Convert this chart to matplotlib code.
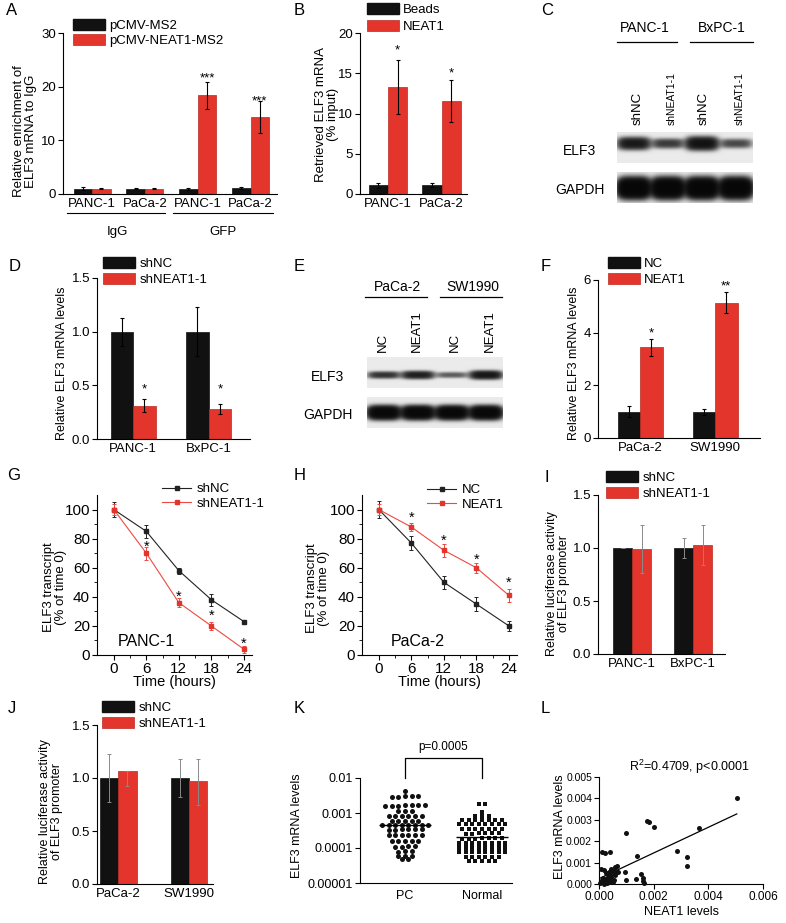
import numpy as np
import matplotlib
matplotlib.use('Agg')
import matplotlib.pyplot as plt
from matplotlib.patches import Patch
from matplotlib.lines import Line2D
from matplotlib.ticker import FixedLocator, NullLocator

plt.rcParams['font.family'] = ['Liberation Sans', 'DejaVu Sans']
plt.rcParams['mathtext.fontset'] = 'custom'
plt.rcParams['mathtext.rm'] = 'Liberation Sans'
plt.rcParams['mathtext.it'] = 'Liberation Sans:italic'
plt.rcParams['font.size'] = 9
plt.rcParams['axes.linewidth'] = 0.8

# ------------------------------------------------------------------ data
# A: RIP enrichment
a_cats = ['PANC-1', 'PaCa-2', 'PANC-1', 'PaCa-2']
a_groups = ['IgG', 'GFP']
a_series = ['pCMV-MS2', 'pCMV-NEAT1-MS2']
a_ctrl = [1.0, 1.0, 1.0, 1.1]
a_ctrl_err = [0.3, 0.05, 0.2, 0.15]
a_trt = [1.0, 1.0, 18.4, 14.3]
a_trt_err = [0.1, 0.05, 2.5, 3.0]
a_marks = ['', '', '***', '***']
a_mark_y = [0, 0, 22.4, 18.1]

# B: pull-down
b_cats = ['PANC-1', 'PaCa-2']
b_series = ['Beads', 'NEAT1']
b_ctrl = [1.1, 1.1]
b_ctrl_err = [0.3, 0.25]
b_trt = [13.3, 11.6]
b_trt_err = [3.4, 2.6]
b_marks = ['*', '*']
b_mark_y = [18.4, 15.5]

# C: western blot (band intensity, relative)
c_groups = ['PANC-1', 'BxPC-1']
c_lanes = ['shNC', 'shNEAT1-1', 'shNC', 'shNEAT1-1']
c_elf3 = [0.85, 0.5, 1.0, 0.42]
c_gapdh = [1.0, 1.0, 1.0, 1.0]

# D: qPCR knockdown
d_cats = ['PANC-1', 'BxPC-1']
d_series = ['shNC', 'shNEAT1-1']
d_ctrl = [1.0, 1.0]
d_ctrl_err = [0.13, 0.23]
d_trt = [0.31, 0.28]
d_trt_err = [0.06, 0.045]
d_marks = ['*', '*']
d_mark_y = [0.5, 0.5]

# E: western blot overexpression
e_groups = ['PaCa-2', 'SW1990']
e_lanes = ['NC', 'NEAT1', 'NC', 'NEAT1']
e_elf3 = [0.6, 0.8, 0.35, 0.95]
e_gapdh = [0.95, 0.95, 0.95, 0.95]

# F: qPCR overexpression
f_cats = ['PaCa-2', 'SW1990']
f_series = ['NC', 'NEAT1']
f_ctrl = [1.0, 1.0]
f_ctrl_err = [0.2, 0.12]
f_trt = [3.45, 5.14]
f_trt_err = [0.32, 0.41]
f_marks = ['*', '**']
f_mark_y = [4.15, 5.9]

# G: mRNA decay PANC-1
t_hours = [0, 6, 12, 18, 24]
g_series = ['shNC', 'shNEAT1-1']
g_ctrl = [100, 85, 58, 38, 23]
g_ctrl_err = [5, 4.5, 2, 4, 1.2]
g_trt = [100, 70, 36, 20, 4]
g_trt_err = [4, 4.5, 3, 3, 2.5]
g_mark_t = [6, 12, 18, 24]
g_mark_y = [76.5, 42, 29, 10]

# H: mRNA decay PaCa-2
h_series = ['NC', 'NEAT1']
h_ctrl = [100, 77, 50, 35, 20]
h_ctrl_err = [6, 4.5, 4.5, 5, 3.5]
h_trt = [100, 88, 72, 60, 41]
h_trt_err = [4, 3, 4.5, 3.5, 4.5]
h_mark_t = [6, 12, 18, 24]
h_mark_y = [96.5, 81, 68, 52]

# I: luciferase knockdown
i_cats = ['PANC-1', 'BxPC-1']
i_series = ['shNC', 'shNEAT1-1']
i_ctrl = [1.0, 1.0]
i_ctrl_err = [0.0, 0.09]
i_trt = [0.99, 1.03]
i_trt_err = [0.23, 0.19]

# J: luciferase
j_cats = ['PaCa-2', 'SW1990']
j_series = ['shNC', 'shNEAT1-1']
j_ctrl = [1.0, 1.0]
j_ctrl_err = [0.23, 0.18]
j_trt = [1.07, 0.97]
j_trt_err_low = [0.15, 0.22]
j_trt_err_high = [0.0, 0.21]

# K: tissue levels
k_cats = ['PC', 'Normal']
k_pc = [4.3e-3,
        3.0e-3, 3.0e-3, 3.0e-3, 2.9e-3, 2.9e-3,
        1.65e-3, 1.65e-3, 1.65e-3, 1.6e-3, 1.6e-3, 1.6e-3, 1.65e-3,
        1.15e-3, 1.15e-3, 1.15e-3,
        8.2e-4, 8.2e-4, 8.0e-4, 8.0e-4, 8.2e-4, 8.0e-4,
        5.9e-4, 5.8e-4, 5.8e-4, 5.9e-4, 5.8e-4,
        4.6e-4, 4.6e-4, 4.5e-4, 4.5e-4, 4.6e-4, 4.5e-4, 4.6e-4, 4.5e-4,
        3.4e-4, 3.4e-4, 3.3e-4, 3.4e-4, 3.3e-4, 3.4e-4,
        2.4e-4, 2.4e-4, 2.3e-4, 2.4e-4, 2.3e-4, 2.4e-4,
        1.6e-4, 1.6e-4, 1.6e-4, 1.55e-4, 1.6e-4,
        1.15e-4, 1.1e-4, 1.15e-4, 1.1e-4,
        8.0e-5, 8.0e-5, 7.8e-5,
        6.0e-5, 6.0e-5, 5.9e-5,
        4.7e-5, 4.7e-5]
k_normal = [1.85e-3, 1.85e-3,
            1.1e-3,
            8.3e-4, 8.3e-4, 8.2e-4,
            6.5e-4, 6.5e-4, 6.4e-4, 6.5e-4, 6.4e-4, 6.5e-4, 6.4e-4,
            4.8e-4, 4.8e-4, 4.7e-4, 4.8e-4, 4.7e-4, 4.8e-4, 4.7e-4, 4.8e-4,
            3.5e-4, 3.5e-4, 3.4e-4, 3.5e-4, 3.4e-4, 3.5e-4, 3.4e-4,
            2.6e-4, 2.6e-4, 2.5e-4, 2.6e-4, 2.5e-4, 2.6e-4,
            1.9e-4, 1.9e-4, 1.85e-4, 1.9e-4, 1.85e-4, 1.9e-4, 1.85e-4,
            1.4e-4, 1.4e-4, 1.38e-4, 1.4e-4, 1.38e-4, 1.4e-4, 1.38e-4, 1.4e-4,
            1.2e-4, 1.2e-4, 1.19e-4, 1.2e-4, 1.19e-4, 1.2e-4, 1.19e-4, 1.2e-4,
            1.0e-4, 1.0e-4, 0.99e-4, 1.0e-4, 0.99e-4, 1.0e-4, 0.99e-4, 1.0e-4,
            7.6e-5, 7.6e-5, 7.5e-5, 7.6e-5, 7.5e-5, 7.6e-5, 7.5e-5, 7.6e-5,
            5.7e-5, 5.7e-5, 5.6e-5, 5.7e-5, 5.6e-5, 5.7e-5,
            4.3e-5, 4.3e-5, 4.2e-5, 4.3e-5, 4.2e-5]
k_pc_line = 4.6e-4
k_normal_line = 2.0e-4
k_pvalue = 'p=0.0005'

# L: correlation
l_neat1 = [0.00504, 0.00367, 0.00175, 0.00182, 0.00200, 0.00100, 0.00287, 0.00322, 0.00322,
           0.00140, 0.00012, 0.00022, 0.00040, 0.00095, 0.00098, 0.00135, 0.00155, 0.00160,
           0.00162, 0.00165,
           0.00008, 0.00020, 0.00045, 0.00060, 0.00065, 0.00050, 0.00055, 0.00040, 0.00030,
           0.00020, 0.00010, 0.00005, 0.00030, 0.00040, 0.00025, 0.00035, 0.00015, 0.00050,
           0.00045, 0.00060, 0.00020, 0.00030, 0.00010, 0.00040, 0.00055, 0.00070, 0.00060,
           0.00028, 0.00033, 0.00038]
l_elf3 = [0.00400, 0.00260, 0.00295, 0.00290, 0.00265, 0.00240, 0.00155, 0.00125, 0.00085,
          0.00130, 0.00150, 0.00145, 0.00150, 0.00055, 0.00020, 0.00025, 0.00045, 0.00030,
          0.00012, 0.00005,
          0.00070, 0.00065, 0.00070, 0.00080, 0.00085, 0.00060, 0.00050, 0.00040, 0.00030,
          0.00020, 0.00010, 0.00005, 0.00015, 0.00020, 0.00050, 0.00055, 0.00030, 0.00010,
          0.00035, 0.00040, 0.00000, 0.00005, 0.00020, 0.00010, 0.00020, 0.00055, 0.00060,
          0.00025, 0.00045, 0.00038]
l_fit_slope = 0.60
l_fit_intercept = 0.00025
l_stat = 'R$^2$=0.4709, p<0.0001'

# ------------------------------------------------------------------ layout helpers
W, H = 786, 923
fig = plt.figure(figsize=(W / 100, H / 100), dpi=100)
BLACK = '#111111'
RED = '#e3352c'
RED_EDGE = '#b82a22'
RED_LINE = '#ec4a42'
TICK_FS = 9.5


def box(l, t, r, b):
    return [l / W, 1 - b / H, (r - l) / W, (b - t) / H]


def fx(x):
    return x / W


def fy(y):
    return 1 - y / H


def clean(ax, fs=TICK_FS):
    ax.spines['top'].set_visible(False)
    ax.spines['right'].set_visible(False)
    ax.tick_params(which='major', direction='out', length=3.5, width=0.8, labelsize=fs, pad=1.5)
    ax.tick_params(which='minor', direction='out', length=2, width=0.6)


def ylabel_at(ax, rect, text, right_px, center_px, fs=9):
    l, t, r, b = rect
    ax.set_ylabel(text, fontsize=fs, linespacing=1.05)
    ax.yaxis.set_label_coords((right_px - l) / (r - l), (b - center_px) / (b - t))


def letter(x, y, s):
    fig.text(fx(x), fy(y), s, fontsize=12, ha='left', va='top')


def bar_legend(x_left, y_top, labels, hl=2.4, hh=0.85, ls=0.25, fs=9.5):
    handles = [Patch(facecolor=BLACK, edgecolor=BLACK), Patch(facecolor=RED, edgecolor=RED_EDGE, linewidth=0.5)]
    fig.legend(handles, labels, loc='upper left', bbox_to_anchor=(fx(x_left), fy(y_top)),
               frameon=False, borderpad=0, borderaxespad=0, handlelength=hl, handleheight=hh,
               handletextpad=0.35, labelspacing=ls, fontsize=fs)


def star(ax, x, y, s, fs=9.5):
    ax.annotate(s, xy=(x, y), xytext=(0, -5.2), textcoords='offset points', ha='center',
                va='baseline', fontsize=fs, annotation_clip=False)


def bar_panel(rect, cats, ctrl, ctrl_err, trt, trt_err, xlim, width, ylim, yticks, yticklabels,
              ecolor='black', elw=0.8):
    ax = fig.add_axes(box(*rect))
    x = np.arange(len(cats))
    ax.bar(x - width / 2, ctrl, width, color=BLACK, edgecolor=BLACK, linewidth=0.5, zorder=2)
    ax.bar(x + width / 2, trt, width, color=RED, edgecolor=RED_EDGE, linewidth=0.5, zorder=2)
    ax.errorbar(x - width / 2, ctrl, yerr=ctrl_err, fmt='none', ecolor=ecolor, elinewidth=elw,
                capsize=1.5, capthick=elw, zorder=3)
    ax.errorbar(x + width / 2, trt, yerr=trt_err, fmt='none', ecolor=ecolor, elinewidth=elw,
                capsize=1.5, capthick=elw, zorder=3)
    ax.set_xlim(*xlim)
    ax.set_ylim(*ylim)
    ax.set_xticks(x)
    ax.set_xticklabels(cats)
    ax.set_yticks(yticks)
    ax.set_yticklabels(yticklabels)
    clean(ax)
    ax.tick_params(axis='x', length=0, pad=3)
    return ax, x


def blot(rect, amps, center_frac, sigma_px, gain, bg=0.92):
    l, t, r, b = rect
    ax = fig.add_axes(box(*rect))
    ny, nx = int((b - t) * 4), int((r - l) * 4)
    yy = (np.arange(ny) + 0.5) / 4.0
    xx = (np.arange(nx) + 0.5) / 4.0
    n = len(amps)
    lane_w = (r - l) / n
    dark = np.zeros((ny, nx))
    cy = center_frac * (b - t)
    for i, a in enumerate(amps):
        cx = (i + 0.5) * lane_w
        hx = np.exp(-(np.abs(xx - cx) / (0.45 * lane_w)) ** 4)
        sig = sigma_px * (0.5 + 0.5 * a)
        vy = np.exp(-(np.abs(yy - cy) / sig) ** 2.5)
        dark += a * np.outer(vy, hx)
    dark = 1 - np.exp(-gain * dark)
    img = bg * (1 - 0.97 * dark)
    ax.imshow(img, cmap='gray', vmin=0, vmax=1, extent=(0, r - l, b - t, 0), aspect='auto',
              interpolation='bilinear')
    ax.axis('off')
    return ax


def blot_panel(groups, lanes, lane_fs, elf3, gapdh, group_x, line_spans, line_y, group_y, lane_x,
               lane_bottom, elf3_box, gapdh_box, elf3_c, gapdh_c, name_x, elf3_y, gapdh_y,
               elf3_sigma, gapdh_sigma, elf3_gain, gapdh_gain):
    for g, gx, (x0, x1) in zip(groups, group_x, line_spans):
        fig.text(fx(gx), fy(group_y), g, ha='center', va='center', fontsize=10)
        fig.add_artist(Line2D([fx(x0), fx(x1)], [fy(line_y), fy(line_y)], color='black', lw=0.9))
    for s, lx, lf in zip(lanes, lane_x, lane_fs):
        fig.text(fx(lx), fy(lane_bottom), s, rotation=90, ha='center', va='bottom', fontsize=lf)
    blot(elf3_box, elf3, elf3_c, elf3_sigma, elf3_gain)
    blot(gapdh_box, gapdh, gapdh_c, gapdh_sigma, gapdh_gain)
    fig.text(fx(name_x), fy(elf3_y), 'ELF3', ha='center', va='center', fontsize=10)
    fig.text(fx(name_x), fy(gapdh_y), 'GAPDH', ha='center', va='center', fontsize=10)


def time_panel(rect, t, c, ce, tr, te, labels, mark_t, mark_y, cell, cell_xy, leg_xy):
    ax = fig.add_axes(box(*rect))
    ax.errorbar(t, c, yerr=ce, color='#222222', marker='s', ms=3.3, lw=0.8, elinewidth=0.7,
                capsize=1.5, capthick=0.7, zorder=3)
    ax.errorbar(t, tr, yerr=te, color=RED_LINE, mfc=RED, mec=RED, marker='s', ms=3.3, lw=0.8,
                elinewidth=0.7, capsize=1.5, capthick=0.7, zorder=3)
    for mt, my in zip(mark_t, mark_y):
        star(ax, mt, my, '*', fs=10.5)
    ax.set_xlim(-3.1, 25.5)
    ax.set_ylim(0, 110)
    ax.set_xticks(t)
    ax.set_yticks([0, 20, 40, 60, 80, 100])
    ax.xaxis.set_minor_locator(FixedLocator([3, 9, 15, 21]))
    ax.yaxis.set_minor_locator(FixedLocator([10, 30, 50, 70, 90]))
    clean(ax, fs=11)
    ax.text(cell_xy[0], cell_xy[1], cell, fontsize=11.5, ha='left', va='center')
    handles = [Line2D([], [], color='#222222', marker='s', ms=3.3, lw=0.8),
               Line2D([], [], color=RED_LINE, mfc=RED, mec=RED, marker='s', ms=3.3, lw=0.8)]
    fig.legend(handles, labels, loc='upper left', bbox_to_anchor=(fx(leg_xy[0]), fy(leg_xy[1])),
               frameon=False, borderpad=0, borderaxespad=0, handlelength=2.2, handletextpad=0.45,
               labelspacing=0.2, fontsize=9.5)
    return ax


# ------------------------------------------------------------------ A
rA = (63, 33, 277, 194)
axA, xA = bar_panel(rA, a_cats, a_ctrl, a_ctrl_err, a_trt, a_trt_err, (-0.55, 3.5), 0.35,
                    (0, 30), [0, 10, 20, 30], ['0', '10', '20', '30'])
for xi, m, my in zip(xA, a_marks, a_mark_y):
    if m:
        star(axA, xi + 0.175, my, m)
ylabel_at(axA, rA, 'Relative enrichment of\nELF3 mRNA to IgG', 37, 131, fs=9.5)
bar_legend(73, 19, a_series, ls=0.2)
for g, (x0, x1), gx in zip(a_groups, [(67, 165), (173, 273)], [117, 223]):
    fig.add_artist(Line2D([fx(x0), fx(x1)], [fy(213), fy(213)], color='black', lw=0.8))
    fig.text(fx(gx), fy(232), g, ha='center', va='center', fontsize=9.5)
letter(6, 3, 'A')

# ------------------------------------------------------------------ B
rB = (360, 33, 467, 194)
axB, xB = bar_panel(rB, b_cats, b_ctrl, b_ctrl_err, b_trt, b_trt_err, (-0.52, 1.47), 0.36,
                    (0, 20), [0, 5, 10, 15, 20], ['0', '5', '10', '15', '20'])
for xi, m, my in zip(xB, b_marks, b_mark_y):
    star(axB, xi + 0.18, my, m)
ylabel_at(axB, rB, 'Retrieved ELF3 mRNA\n(% input)', 339, 114, fs=9.5)
bar_legend(367, 3, b_series, hh=0.95, ls=0.25)
letter(294, 3, 'B')

# ------------------------------------------------------------------ C
letter(541, 3, 'C')
blot_panel(c_groups, c_lanes, [9.5, 7.5, 9.5, 7.5], c_elf3, c_gapdh, [645, 722],
           [(617, 677), (690, 753)], 42, 28, [638, 672, 704, 740], 125,
           (617, 132, 753, 163), (617, 172, 753, 203), 0.37, 0.52,
           580, 151, 190, 6.0, 9.0, 3.0, 6.0)

# ------------------------------------------------------------------ D
rD = (97, 278, 250, 439)
axD, xD = bar_panel(rD, d_cats, d_ctrl, d_ctrl_err, d_trt, d_trt_err, (-0.48, 1.55), 0.3,
                    (0, 1.5), [0, 0.5, 1.0, 1.5], ['0.0', '0.5', '1.0', '1.5'])
for xi, m, my in zip(xD, d_marks, d_mark_y):
    star(axD, xi + 0.15, my, m)
ylabel_at(axD, rD, 'Relative ELF3 mRNA levels', 68, 363)
bar_legend(103, 257, d_series)
letter(9, 259, 'D')

# ------------------------------------------------------------------ E
letter(294, 259, 'E')
blot_panel(e_groups, e_lanes, [9.5, 9.5, 9.5, 9.5], e_elf3, e_gapdh, [397, 473],
           [(365, 427), (440, 502)], 297, 287, [383, 417, 455, 490], 352,
           (367, 357, 503, 388), (367, 397, 503, 428), 0.58, 0.52,
           328, 377, 415, 4.0, 6.0, 2.8, 5.0)

# ------------------------------------------------------------------ F
rF = (598, 280, 760, 438)
axF, xF = bar_panel(rF, f_cats, f_ctrl, f_ctrl_err, f_trt, f_trt_err, (-0.56, 1.6), 0.3,
                    (0, 6), [0, 2, 4, 6], ['0', '2', '4', '6'])
for xi, m, my in zip(xF, f_marks, f_mark_y):
    star(axF, xi + 0.15, my, m)
ylabel_at(axF, rF, 'Relative ELF3 mRNA levels', 580, 363)
bar_legend(608, 257, f_series)
letter(541, 259, 'F')

# ------------------------------------------------------------------ G
rG = (97, 495, 252, 655)
axG = time_panel(rG, t_hours, g_ctrl, g_ctrl_err, g_trt, g_trt_err, g_series, g_mark_t, g_mark_y,
                 'PANC-1', (0.7, 9), (162, 483))
ylabel_at(axG, rG, 'ELF3 transcript\n(% of time 0)', 67, 587, fs=9.5)
axG.set_xlabel('Time (hours)', fontsize=10.5, labelpad=-1)
letter(7, 468, 'G')

# ------------------------------------------------------------------ H
rH = (362, 495, 517, 655)
axH = time_panel(rH, t_hours, h_ctrl, h_ctrl_err, h_trt, h_trt_err, h_series, h_mark_t, h_mark_y,
                 'PaCa-2', (2.2, 9), (427, 484))
ylabel_at(axH, rH, 'ELF3 transcript\n(% of time 0)', 330, 588, fs=9.5)
axH.set_xlabel('Time (hours)', fontsize=10.5, labelpad=-1)
letter(294, 468, 'H')

# ------------------------------------------------------------------ I
rI = (598, 495, 725, 654)
axI, xI = bar_panel(rI, i_cats, i_ctrl, i_ctrl_err, i_trt, i_trt_err, (-0.56, 1.52), 0.31,
                    (0, 1.5), [0, 0.5, 1.0, 1.5], ['0.0', '0.5', '1.0', '1.5'],
                    ecolor='#8a8a8a', elw=0.7)
ylabel_at(axI, rI, 'Relative luciferase activity\nof ELF3 promoter', 570, 584)
bar_legend(606, 471, i_series)
letter(544, 470, 'I')

# ------------------------------------------------------------------ J
rJ = (97, 725, 213, 884)
axJ, xJ = bar_panel(rJ, j_cats, j_ctrl, j_ctrl_err, j_trt, [j_trt_err_low, j_trt_err_high],
                    (-0.3, 1.34), 0.26, (0, 1.5), [0, 0.5, 1.0, 1.5], ['0.0', '0.5', '1.0', '1.5'],
                    ecolor='#8a8a8a', elw=0.7)
ylabel_at(axJ, rJ, 'Relative luciferase activity\nof ELF3 promoter', 63, 812)
bar_legend(102, 701, j_series)
letter(8, 701, 'J')


# ------------------------------------------------------------------ K
def row_offsets(values, px_unit, tol_decade, gap_px):
    """Points whose log values lie within tol of a row's first member share a row,
    laid side by side (GraphPad style scatter)."""
    lv = np.log10(values)
    order = np.argsort(lv)
    out = np.zeros(len(values))
    rows, cur, start = [], [], None
    for i in order:
        if start is None or lv[i] - start > tol_decade:
            if cur:
                rows.append(cur)
            cur, start = [i], lv[i]
        else:
            cur.append(i)
    rows.append(cur)
    for row in rows:
        n = len(row)
        out[row] = (np.arange(n) - (n - 1) / 2.0) * gap_px / px_unit
    return out


rK = (360, 778, 512, 883)
axK = fig.add_axes(box(*rK))
axK.set_yscale('log')
k_px_unit = 77.0
for xi, vals, mk in zip([0, 1], [k_pc, k_normal], ['o', 's']):
    off = row_offsets(vals, k_px_unit, 0.06, 6.6)
    axK.scatter(xi + off, vals, s=13 if mk == 'o' else 12, marker=mk, color=BLACK, linewidths=0,
                zorder=3, clip_on=False)
for xi, v in zip([0, 1], [k_pc_line, k_normal_line]):
    axK.plot([xi - 0.34, xi + 0.34], [v, v], color='black', lw=1.0, zorder=4, solid_capstyle='butt')
axK.set_xlim((360 - 405) / k_px_unit, (rK[2] - 405) / k_px_unit)
axK.set_ylim(1e-5, 1e-2)
axK.set_xticks([0, 1])
axK.set_xticklabels(k_cats)
axK.yaxis.set_major_locator(FixedLocator([1e-5, 1e-4, 1e-3, 1e-2]))
axK.yaxis.set_minor_locator(NullLocator())
axK.set_yticklabels(['0.00001', '0.0001', '0.001', '0.01'])
clean(axK, fs=9)
axK.tick_params(axis='x', length=0, pad=5)
ylabel_at(axK, rK, 'ELF3 mRNA levels', 303, 826)
axK.plot([0, 0, 1, 1], [1e-2, 3.7e-2, 3.7e-2, 1e-2], color='black', lw=0.9, clip_on=False)
axK.text(0.5, 7.7e-2, k_pvalue, ha='center', va='center', fontsize=8.5)
letter(294, 701, 'K')

# ------------------------------------------------------------------ L
rL = (599, 777, 763, 884)
axL = fig.add_axes(box(*rL))
axL.scatter(l_neat1, l_elf3, s=13, color=BLACK, linewidths=0, zorder=3, clip_on=False)
xfit = np.array([0.0, max(l_neat1)])
axL.plot(xfit, l_fit_intercept + l_fit_slope * xfit, color='black', lw=0.9, zorder=2)
axL.set_xlim(0, 0.006)
axL.set_ylim(0, 0.005)
axL.set_xticks([0, 0.002, 0.004, 0.006])
axL.set_xticklabels(['0.000', '0.002', '0.004', '0.006'])
axL.set_yticks([0, 0.001, 0.002, 0.003, 0.004, 0.005])
axL.set_yticklabels(['0.000', '0.001', '0.002', '0.003', '0.004', '0.005'])
clean(axL, fs=8.5)
axL.tick_params(axis='y', labelsize=7.5)
ylabel_at(axL, rL, 'ELF3 mRNA levels', 566, 827)
axL.set_xlabel('NEAT1 levels', fontsize=9, labelpad=2)
fig.text(fx(689), fy(767), l_stat, ha='center', va='center', fontsize=9)
letter(541, 701, 'L')

fig.savefig('out.png', dpi=100, facecolor='white')
